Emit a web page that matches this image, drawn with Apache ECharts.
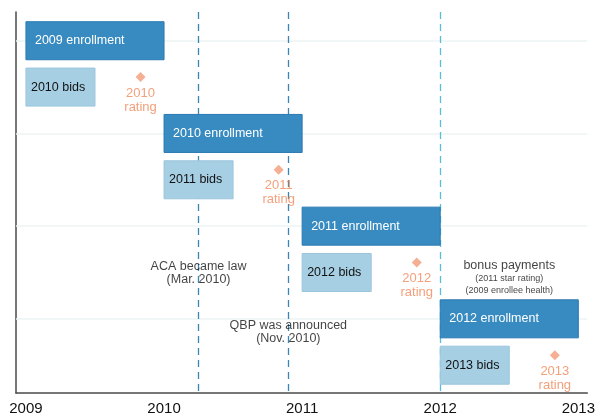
<!DOCTYPE html>
<html>
<head>
<meta charset="utf-8">
<script src="https://cdn.jsdelivr.net/npm/echarts@6/dist/echarts.min.js"></script>
<style>
  html, body { margin: 0; padding: 0; background: #fff; }
  #main { width: 598px; height: 416px; }
</style>
</head>
<body>
<div id="main"></div>
<script>
// timeline data (years as decimals)
const years = [2009, 2010, 2011, 2012, 2013];
const enrollLabels = ["2009 enrollment", "2010 enrollment", "2011 enrollment", "2012 enrollment"];
const enrollStart = [2009, 2010, 2011, 2012];
const enrollEnd = [2010, 2011, 2012, 2013];
const enrollRow = [0, 2, 4, 6];
const bidLabels = ["2010 bids", "2011 bids", "2012 bids", "2013 bids"];
const bidStart = [2009, 2010, 2011, 2012];
const bidEnd = [2009.5, 2010.5, 2011.5, 2012.5];
const bidRow = [1, 3, 5, 7];
const ratingLabels = ["2010\nrating", "2011\nrating", "2012\nrating", "2013\nrating"];
const ratingX = [2009.83, 2010.83, 2011.83, 2012.83];
const eventX = [2010.25, 2010.9, 2012];

const chartDom = document.getElementById("main");
const myChart = echarts.init(chartDom);

const FONT = "Liberation Sans";

function barItem(fill, stroke, textColor, pad) {
  return function (params, api) {
    const s = api.coord([api.value(0), api.value(2)]);
    const e = api.coord([api.value(1), api.value(2)]);
    const h = api.size([0, 0.82])[1];
    return {
      type: "group",
      children: [
        {
          type: "rect",
          shape: { x: s[0], y: s[1] - h / 2, width: e[0] - s[0], height: h },
          style: { fill: fill, stroke: stroke, lineWidth: 1 }
        },
        {
          type: "text",
          x: s[0] + pad,
          y: s[1],
          style: {
            text: api.value(3),
            fill: textColor,
            font: "12.5px " + FONT,
            verticalAlign: "middle",
            align: "left"
          }
        }
      ]
    };
  };
}

const enrollData = enrollStart.map((v, i) => [v, enrollEnd[i], enrollRow[i], enrollLabels[i]]);
const bidData = bidStart.map((v, i) => [v, bidEnd[i], bidRow[i], bidLabels[i]]);
const ratingData = ratingX.map((v, i) => ({ value: [v, bidRow[i]], label: { formatter: ratingLabels[i] } }));

const option = {
  animation: false,
  grid: { left: 16, right: 8, top: 12, bottom: 22 },
  xAxis: {
    type: "value",
    min: 2008.928,
    max: 2013.065,
    axisLine: { onZero: false, lineStyle: { color: "#4a4a4a", width: 1.5 } },
    axisTick: { show: false },
    splitLine: { show: false },
    axisLabel: {
      customValues: years,
      formatter: v => String(v),
      color: "#111",
      fontSize: 15,
      fontFamily: FONT,
      margin: 8
    }
  },
  yAxis: {
    type: "value",
    inverse: true,
    min: -0.62,
    max: 7.6,
    axisLine: { show: true, lineStyle: { color: "#4a4a4a", width: 1.5 } },
    axisTick: { show: false },
    axisLabel: { show: false },
    splitLine: { show: false }
  },
  series: [
    {
      type: "line",
      z: 1,
      data: [],
      markLine: {
        z: 1,
        silent: true,
        symbol: "none",
        label: { show: false },
        data: enrollRow.map(r => ({ yAxis: r, lineStyle: { color: "#edf3f3", width: 1.5, type: "solid" } }))
          .concat(eventX.map((x, i) => ({
            xAxis: x,
            lineStyle: {
              color: i < 2 ? "#3a85b3" : "#5bbcd8",
              width: 1.3,
              type: [7, 5]
            }
          })))
      }
    },
    {
      type: "custom",
      z: 3,
      renderItem: barItem("#378bc0", "#2a7ab3", "#fff", 9),
      data: enrollData,
      encode: { x: [0, 1], y: 2 }
    },
    {
      type: "custom",
      z: 3,
      renderItem: barItem("#a6cfe4", "#9cc6dc", "#111", 5),
      data: bidData,
      encode: { x: [0, 1], y: 2 }
    },
    {
      type: "scatter",
      z: 4,
      symbol: "diamond",
      symbolSize: 10,
      symbolOffset: [0, -10],
      itemStyle: { color: "#f39b77" },
      data: ratingData,
      label: {
        show: true,
        position: "bottom",
        distance: 4,
        color: "#f0885a",
        fontSize: 13,
        fontFamily: FONT,
        lineHeight: 14,
        align: "center"
      }
    },
    {
      type: "scatter",
      z: 4,
      symbolSize: 0,
      silent: true,
      data: [
        { value: [2010.25, 5.02], label: { formatter: "ACA became law\n(Mar. 2010)" } },
        { value: [2010.9, 6.29], label: { formatter: "QBP was announced\n(Nov. 2010)" } },
        {
          value: [2012.5, 5.1],
          label: {
            formatter: "{a|bonus payments}\n{b|(2011 star rating)}\n{b|(2009 enrollee health)}",
            rich: {
              a: { fontSize: 12.5, fontFamily: FONT, color: "#111", lineHeight: 14 },
              b: { fontSize: 9, fontFamily: FONT, color: "#111", lineHeight: 12 }
            }
          }
        }
      ],
      label: {
        show: true,
        position: "inside",
        color: "#111",
        fontSize: 12.5,
        fontFamily: FONT,
        lineHeight: 13,
        align: "center"
      }
    }
  ]
};

option && myChart.setOption(option);
</script>
</body>
</html>
